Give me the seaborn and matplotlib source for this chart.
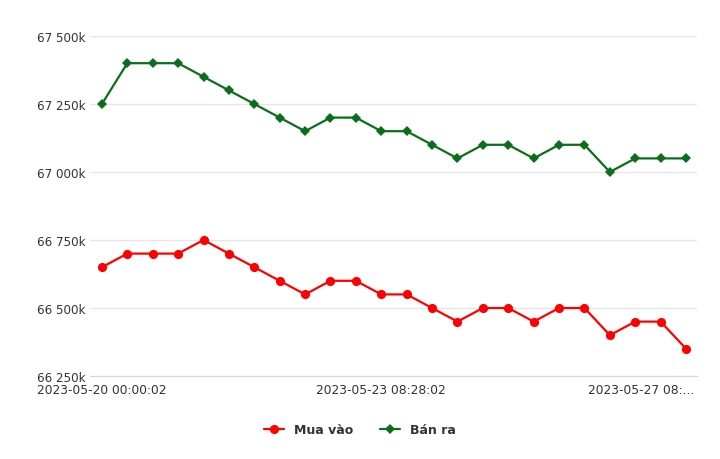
import numpy as np
import pandas as pd
import matplotlib
matplotlib.use("Agg")
import matplotlib.pyplot as plt
import seaborn as sns
from matplotlib.ticker import FuncFormatter

# giá vàng (nghìn đồng)
mua_vao = [66650, 66700, 66700, 66700, 66750, 66700, 66650, 66600, 66550, 66600,
           66600, 66550, 66550, 66500, 66450, 66500, 66500, 66450, 66500, 66500,
           66400, 66450, 66450, 66350]
ban_ra = [67250, 67400, 67400, 67400, 67350, 67300, 67250, 67200, 67150, 67200,
          67200, 67150, 67150, 67100, 67050, 67100, 67100, 67050, 67100, 67100,
          67000, 67050, 67050, 67050]
series_names = ["Mua vào", "Bán ra"]
series_colors = ["#ff0000", "#0b6e1a"]
x_tick_pos = [0, 11, 21.25]
x_tick_labels = ["2023-05-20 00:00:02", "2023-05-23 08:28:02", "2023-05-27 08:..."]
y_ticks = [66250, 66500, 66750, 67000, 67250, 67500]

idx = np.arange(len(mua_vao))
df = pd.DataFrame({
    "idx": np.concatenate([idx, idx]),
    "gia": mua_vao + ban_ra,
    "loai": [series_names[0]] * len(mua_vao) + [series_names[1]] * len(ban_ra),
})

sns.set_style("white")
plt.rcParams["font.family"] = ["DejaVu Sans"]

fig = plt.figure(figsize=(7.2, 4.6), dpi=100)
ax = fig.add_axes([0.125, 0.1804, 0.843, 0.7392])

sns.lineplot(data=df[df["loai"] == series_names[1]], x="idx", y="gia",
             color=series_colors[1], marker="D", markersize=4.6, markeredgewidth=0,
             linewidth=1.6, ax=ax)
sns.lineplot(data=df[df["loai"] == series_names[0]], x="idx", y="gia",
             color=series_colors[0], marker="o", markersize=6.6, markeredgewidth=0,
             linewidth=1.6, ax=ax)

ax.set_xlim(-0.47, 23.43)
ax.set_ylim(66250, 67500)
ax.set_yticks(y_ticks)
ax.yaxis.set_major_formatter(FuncFormatter(lambda v, p: f"{v:,.0f}".replace(",", " ") + "k"))
ax.set_xticks(x_tick_pos)
ax.set_xticklabels(x_tick_labels)
ax.tick_params(axis="both", length=0, labelcolor="#333333")
ax.tick_params(axis="y", pad=3, labelsize=8.6)
ax.tick_params(axis="x", pad=5, labelsize=8.8)
ax.grid(axis="y", color="#e6e6e6", linewidth=1)
ax.set_axisbelow(True)
for s in ["top", "right", "left"]:
    ax.spines[s].set_visible(False)
ax.spines["bottom"].set_color("#ccd6eb")
ax.set_xlabel("")
ax.set_ylabel("")

handles = [plt.Line2D([], [], color=series_colors[0], marker="o", markersize=6.6,
                      markeredgewidth=0, linewidth=1.6),
           plt.Line2D([], [], color=series_colors[1], marker="D", markersize=4.6,
                      markeredgewidth=0, linewidth=1.6)]
fig.legend(handles, series_names, loc="lower center", bbox_to_anchor=(0.5, 0.025), ncol=2,
           frameon=False, prop={"weight": "bold", "size": 9}, handlelength=1.6, columnspacing=2.2,
           labelcolor="#333333")

fig.savefig("out.png", dpi=100)
